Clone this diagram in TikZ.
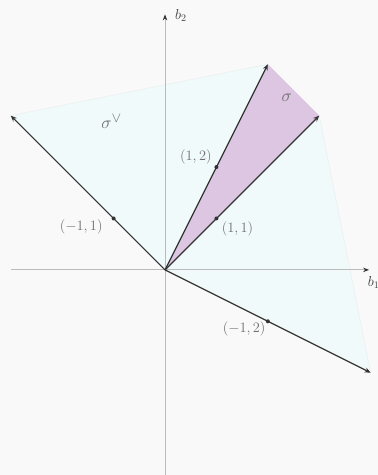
\documentclass[tikz,border=0pt]{standalone}
\usetikzlibrary{arrows.meta}
\definecolor{bgc}{HTML}{F9F9F9}
\definecolor{cyanfill}{HTML}{F0FAFB}
\definecolor{purplefill}{HTML}{DCC6E2}
\definecolor{vecc}{HTML}{333333}
\definecolor{axisc}{HTML}{BBBBBB}
\definecolor{labc}{HTML}{6E6E6E}
\tikzset{
  vec/.style={draw=vecc, line width=1.2pt, -{Stealth[length=6pt,width=5pt]}},
  axis/.style={draw=axisc, line width=0.9pt, -{Stealth[length=6pt,width=4.5pt,color=black!80]}},
  dot/.style={circle, fill=vecc, inner sep=0pt, minimum size=4pt},
  lab/.style={text=labc, font=\fontsize{13.3}{15}\selectfont, inner sep=1pt},
  big/.style={text=labc, font=\fontsize{19}{22}\selectfont, inner sep=1pt},
  axlab/.style={text=black!75, font=\fontsize{14}{16}\selectfont, inner sep=1pt}
}
\begin{document}
\begin{tikzpicture}[x=51.4pt,y=51.4pt]
\fill[bgc] (-3.21,-3.99) rectangle (4.14,5.25);
\useasboundingbox (-3.21,-3.99) rectangle (4.14,5.25);
\coordinate (O) at (0,0);
\coordinate (A) at (-3,3);
\coordinate (B) at (2,4);
\coordinate (C) at (3,3);
\coordinate (D) at (4,-2);
\coordinate (XL) at (-3,0);
\coordinate (XR) at (3.97,0);
\coordinate (YB) at (0,-4.1);
\coordinate (YT) at (0,4.97);
% regions
\fill[cyanfill] (O) -- (A) -- (B) -- (C) -- (D) -- cycle;
\draw[black!8, line width=0.4pt] (A) -- (B) (C) -- (D);
\fill[purplefill] (O) -- (B) -- (C) -- cycle;
% axes
\draw[axis] (XL) -- (XR);
\draw[axis] (YB) -- (YT);
% vectors
\draw[vec] (O) -- (A);
\draw[vec] (O) -- (B);
\draw[vec] (O) -- (C);
\draw[vec] (O) -- (D);
% dots
\node[dot] (p11m) at (-1,1) {};
\node[dot] (p12) at (1,2) {};
\node[dot] (p11) at (1,1) {};
\node[dot] (p21) at (2,-1) {};
% labels
\node[lab] (l11m) at (-1.63,0.84) {$(-1,1)$};
\node[lab] (l12) at (0.60,2.19) {$(1,2)$};
\node[lab] (l11) at (1.41,0.80) {$(1,1)$};
\node[lab] (l21) at (1.54,-1.15) {$(-1,2)$};
\node[big] (sdual) at (-1.04,2.88) {$\sigma^\vee$};
\node[big] (s) at (2.37,3.35) {$\sigma$};
\node[axlab] (b1) at (4.06,-0.24) {$b_1$};
\node[axlab] (b2) at (0.31,4.95) {$b_2$};
\end{tikzpicture}
\end{document}
